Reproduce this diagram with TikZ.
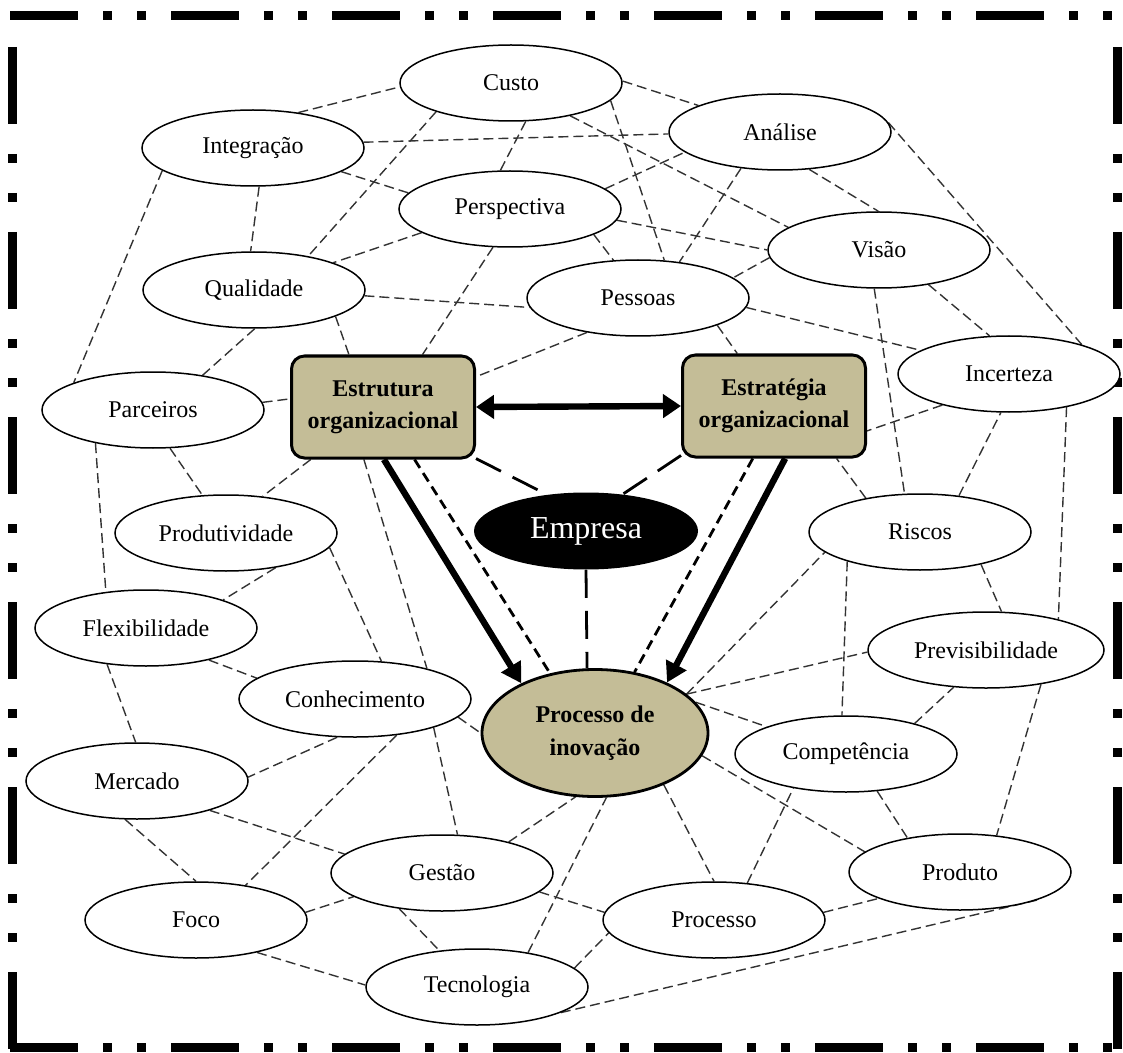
\documentclass[tikz,border=0pt]{standalone}
\usepackage{fontspec}
\setmainfont{Liberation Serif}
\usetikzlibrary{arrows.meta,shapes.geometric,backgrounds}
\definecolor{tanfill}{HTML}{C4BD97}

\begin{document}
\begin{tikzpicture}[
  x=0.5pt, y=-0.5pt,
  every node/.style={font=\fontsize{12}{16}\selectfont, align=center, inner sep=0pt},
  idea/.style={ellipse, draw=black, line width=0.75pt, fill=white, minimum width=111pt, minimum height=38pt},
  pillar/.style={draw=black, line width=1.5pt, rounded corners=6.5pt, fill=tanfill, minimum width=91.5pt, minimum height=51pt, font=\fontsize{12}{16}\selectfont\bfseries},
  core/.style={ellipse, draw=black, line width=1.4pt, fill=tanfill, minimum width=113pt, minimum height=63.5pt, font=\fontsize{12}{16.5}\selectfont\bfseries},
  company/.style={ellipse, fill=black, text=white, minimum width=112pt, minimum height=38.5pt, font=\fontsize{16}{18}\selectfont},
  link/.style={draw=black!80, line width=0.7pt, dash pattern=on 5pt off 2.5pt},
  twin/.style={draw=black, line width=1.4pt, dash pattern=on 5pt off 3pt},
  tie/.style={draw=black, line width=1.4pt, dash pattern=on 14pt off 6.5pt},
  flow/.style={draw=black, line width=3.2pt, -{Triangle[length=10pt, width=11pt]}},
  biflow/.style={draw=black, line width=3.2pt, {Triangle[length=9pt, width=11.5pt]}-{Triangle[length=9pt, width=11.5pt]}},
  hframe/.style={line width=4.5pt, dash pattern=on 34pt off 12.5pt on 4.5pt off 12.5pt on 4.5pt off 12.5pt},
  vframe/.style={line width=4.5pt, dash pattern=on 38.5pt off 15pt on 4.5pt off 15pt on 4.5pt off 15pt}
]
\useasboundingbox (0,0) rectangle (1123,1053);

\draw[hframe] (10,16) -- (1120,16);
\draw[hframe] (10,1047) -- (1120,1047);
\draw[vframe] (12,47) -- (12,1049);
\draw[vframe] (1117,47) -- (1117,1049);

\node[idea] (custo) at (511,83) {Custo};
\node[idea] (integracao) at (253,148) {Integração};
\node[idea] (analise) at (780,132) {Análise};
\node[idea] (perspectiva) at (510,209) {Perspectiva};
\node[idea] (visao) at (879,250) {Visão};
\node[idea] (qualidade) at (254,290) {Qualidade};
\node[idea] (pessoas) at (638,298) {Pessoas};
\node[idea] (incerteza) at (1009,374) {Incerteza};
\node[pillar] (estrutura) at (383,407) {Estrutura\\organizacional};
\node[pillar] (estrategia) at (774,406) {Estratégia\\organizacional};
\node[idea] (parceiros) at (153,410) {Parceiros};
\node[idea] (produtividade) at (226,533) {Produtividade};
\node[company] (empresa) at (586,531) {Empresa};
\node[idea] (riscos) at (920,532) {Riscos};
\node[idea] (flexibilidade) at (146,628) {Flexibilidade};
\node[idea, minimum width=118pt] (previsibilidade) at (986,650) {Previsibilidade};
\node[idea, minimum width=116pt] (conhecimento) at (355,699) {Conhecimento};
\node[core] (inovacao) at (595,733) {Processo de\\inovação};
\node[idea] (competencia) at (846,754) {Competência};
\node[idea] (mercado) at (137,781) {Mercado};
\node[idea] (gestao) at (442,873) {Gestão};
\node[idea] (produto) at (960,872) {Produto};
\node[idea] (foco) at (196,920) {Foco};
\node[idea] (processo) at (714,920) {Processo};
\node[idea] (tecnologia) at (477,987) {Tecnologia};

\begin{scope}[on background layer]
\draw[link] (integracao.38) -- (custo.182);
\draw[link] (integracao.3) -- (analise.181);
\draw[link] (integracao.345) -- (perspectiva.171);
\draw[link] (integracao.-81) -- (qualidade.95);
\draw[link] (integracao.194) -- (parceiros.161);
\draw[link] (custo.201) -- (qualidade.32);
\draw[link] (custo.-69) -- (perspectiva.104);
\draw[link] (custo.1) -- (analise.162);
\draw[link] (custo.-10) -- (pessoas.55);
\draw[link] (custo.-29) -- (visao.166);
\draw[link] (perspectiva.12) -- (analise.192);
\draw[link] (perspectiva.-6) -- (visao.180);
\draw[link] (perspectiva.-17) -- (pessoas.123);
\draw[link] (perspectiva.195) -- (qualidade.19);
\draw[link] (perspectiva.246) -- (estrutura.53);
\draw[link] (analise.223) -- (pessoas.41);
\draw[link] (analise.-52) -- (visao.91);
\draw[link] (analise.5) -- (incerteza.22);
\draw[link] (visao.184) -- (pessoas.12);
\draw[link] (visao.-35) -- (incerteza.117);
\draw[link] (visao.263) -- (riscos.112);
\draw[link] (qualidade.-3) -- (pessoas.185);
\draw[link] (qualidade.-18) -- (estrutura.123);
\draw[link] (qualidade.-89) -- (parceiros.35);
\draw[link] (pessoas.214) -- (estrutura.18);
\draw[link] (pessoas.-19) -- (estrategia.125);
\draw[link] (pessoas.-5) -- (incerteza.165);
\draw[link] (parceiros.4) -- (estrutura.175);
\draw[link] (parceiros.-66) -- (produtividade.122);
\draw[link] (parceiros.210) -- (flexibilidade.138);
\draw[link] (estrutura.216) -- (produtividade.45);
\draw[link] (estrutura.250) -- (conhecimento.23);
\draw[link] (produtividade.-8) -- (conhecimento.55);
\draw[link] (produtividade.-35) -- (flexibilidade.20);
\draw[link] (flexibilidade.-27) -- (conhecimento.168);
\draw[link] (flexibilidade.223) -- (mercado.92);
\draw[link] (conhecimento.-10) -- (inovacao.180);
\draw[link] (conhecimento.245) -- (mercado.2);
\draw[link] (conhecimento.-41) -- (foco.35);
\draw[link] (conhecimento.-20) -- (gestao.68);
\draw[link] (mercado.253) -- (foco.90);
\draw[link] (mercado.-22) -- (gestao.169);
\draw[link] (foco.4) -- (gestao.195);
\draw[link] (foco.-28) -- (tecnologia.179);
\draw[link] (gestao.220) -- (tecnologia.136);
\draw[link] (gestao.25) -- (inovacao.253);
\draw[link] (gestao.-11) -- (processo.176);
\draw[link] (tecnologia.34) -- (inovacao.280);
\draw[link] (tecnologia.11) -- (processo.187);
\draw[link] (tecnologia.-17) -- (produto.-20);
\draw[link] (inovacao.-37) -- (processo.90);
\draw[link] (inovacao.17) -- (competencia.161);
\draw[link] (inovacao.-12) -- (produto.168);
\draw[link] (processo.48) -- (competencia.213);
\draw[link] (processo.4) -- (produto.198);
\draw[link] (competencia.-50) -- (produto.147);
\draw[link] (competencia.24) -- (previsibilidade.229);
\draw[link] (riscos.202) -- (competencia.96);
\draw[link] (previsibilidade.-32) -- (produto.45);
\draw[link] (inovacao.23) -- (previsibilidade.181);
\draw[link] (inovacao.23) -- (riscos.192);
\draw[link] (riscos.-28) -- (previsibilidade.68);
\draw[link] (riscos.43) -- (incerteza.258);
\draw[link] (riscos.148) -- (estrategia.-40);
\draw[link] (incerteza.205) -- (estrategia.-15);
\draw[link] (incerteza.-30) -- (previsibilidade.23);
\end{scope}

\draw[biflow] (estrutura.east) -- (estrategia.west);
\draw[flow] (estrutura.271) -- (inovacao.146);
\draw[flow] (estrategia.282) -- (inovacao.35);
\draw[twin] (estrutura.301) -- (inovacao.127);
\draw[twin] (estrategia.248) -- (inovacao.57);
\draw[tie] (estrutura.331) -- (empresa.137);
\draw[tie] (estrategia.208) -- (empresa.45);
\draw[tie] (empresa.south) -- (inovacao.97);
\end{tikzpicture}
\end{document}
